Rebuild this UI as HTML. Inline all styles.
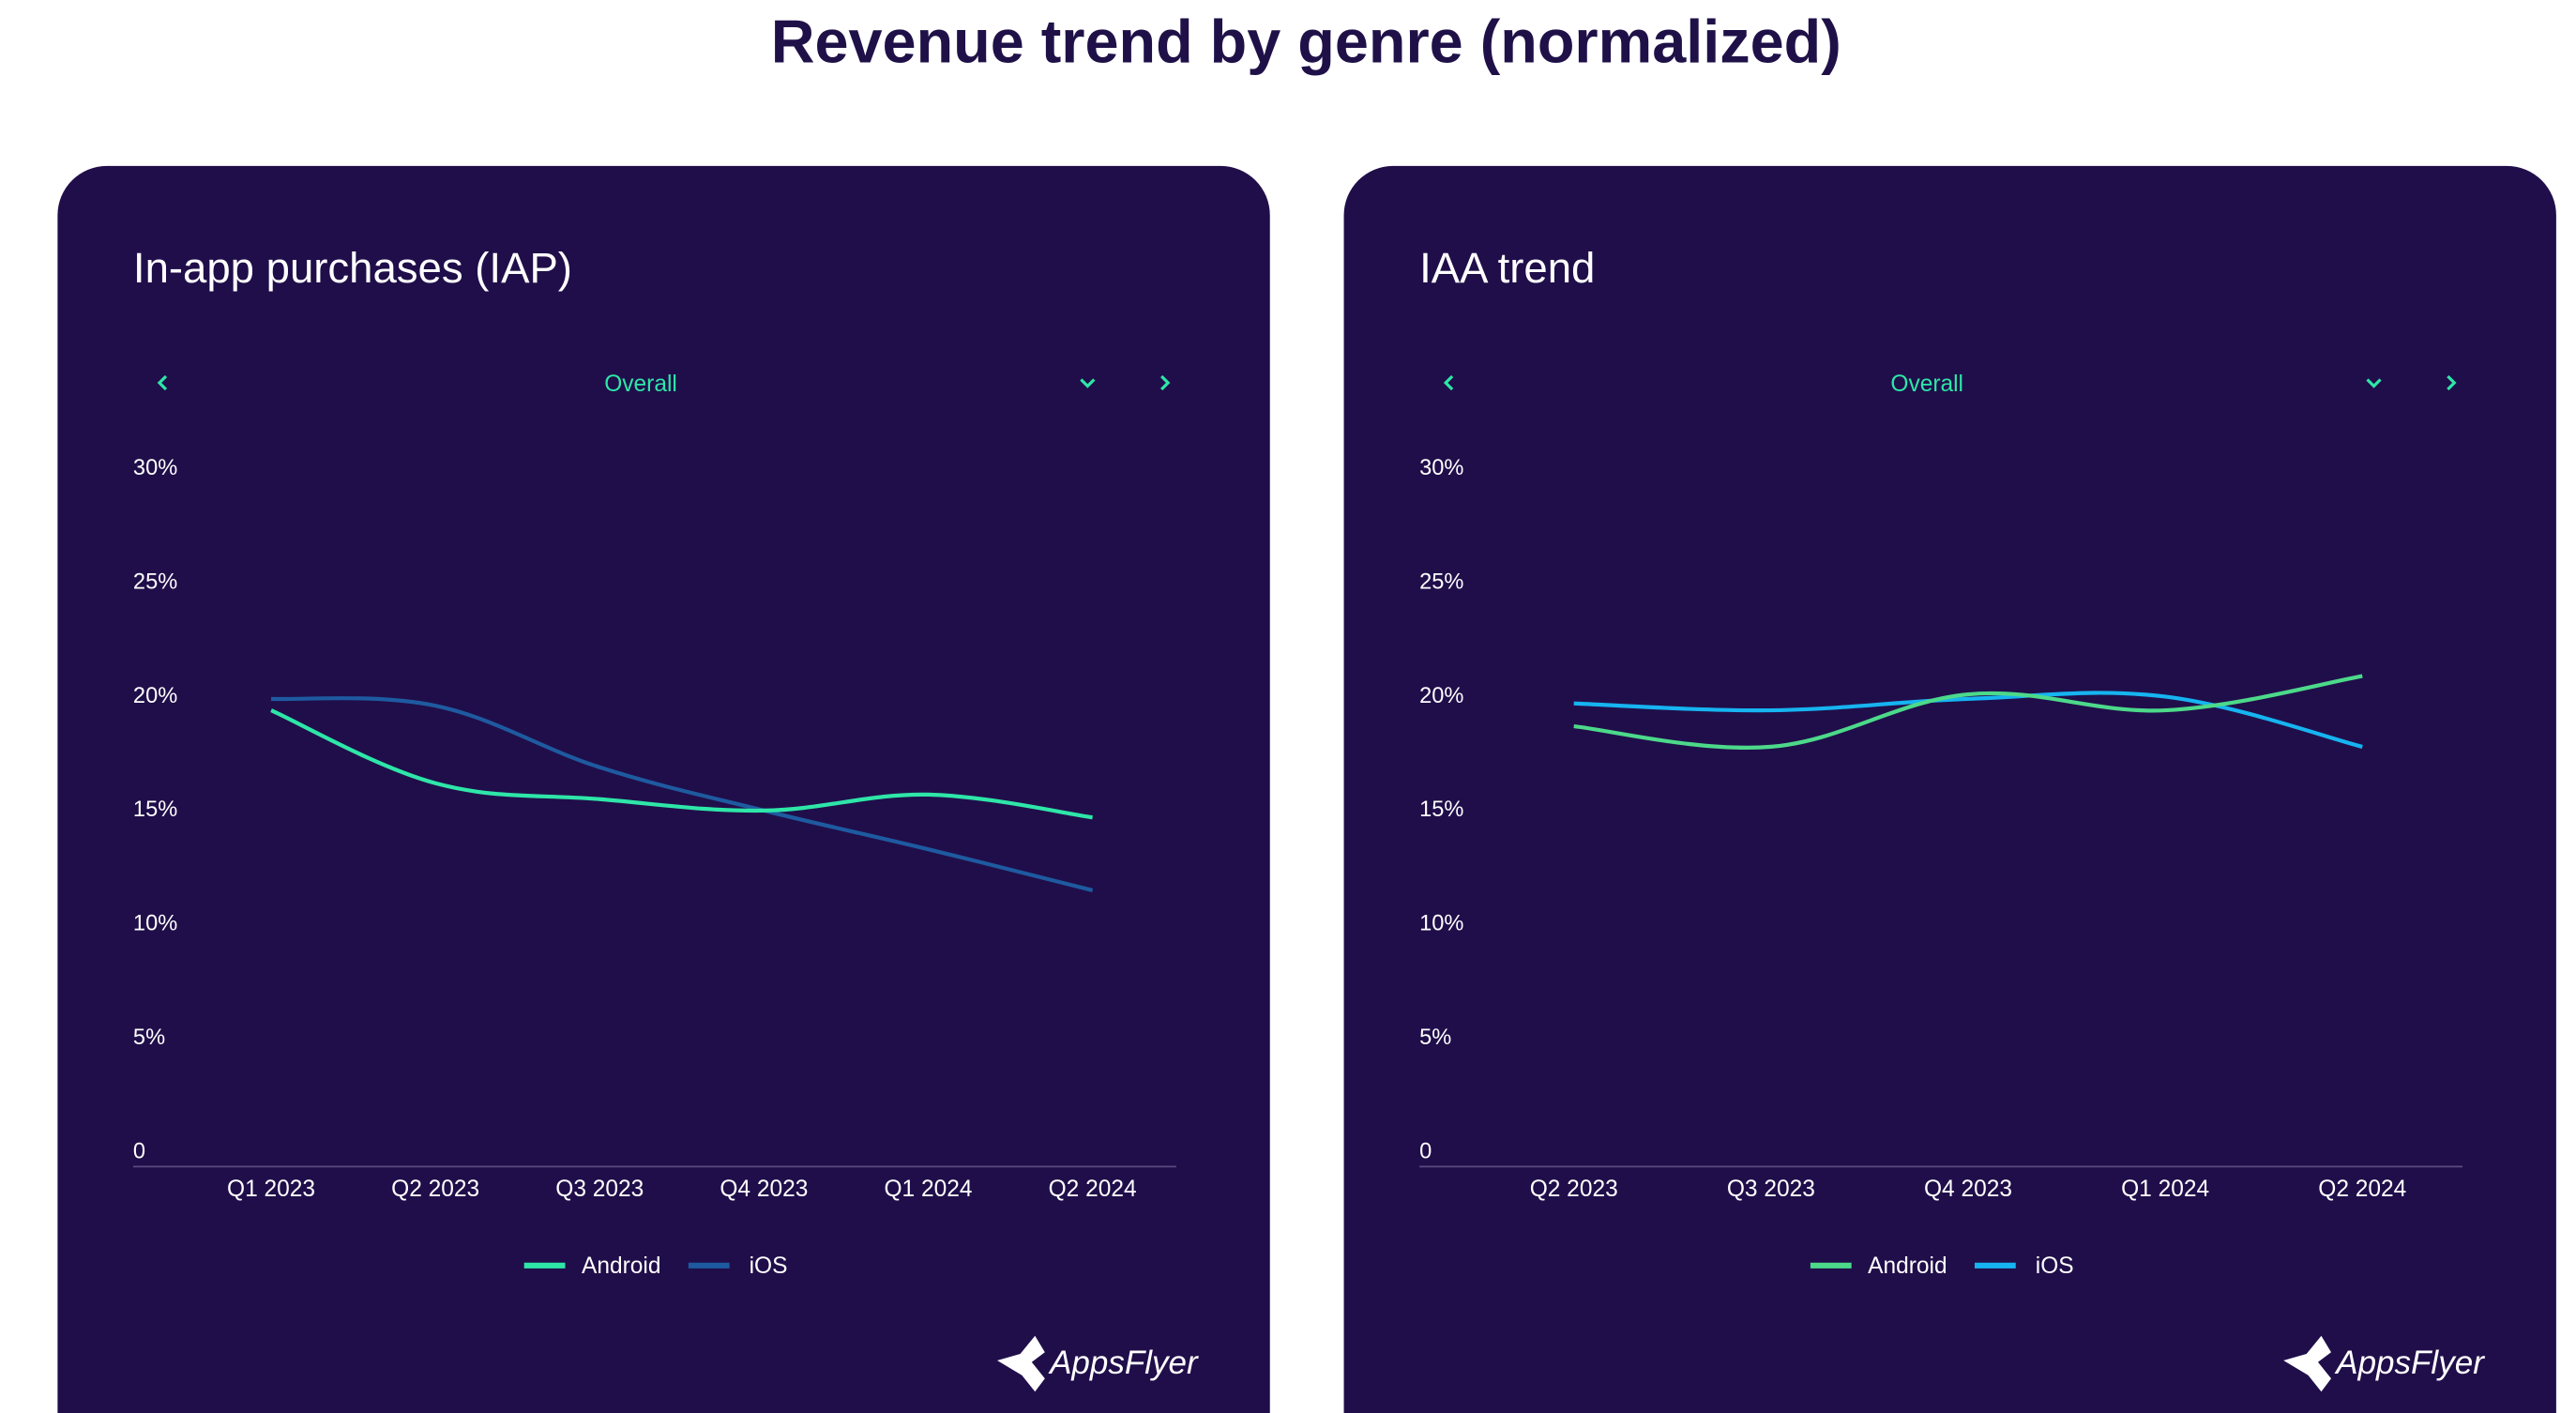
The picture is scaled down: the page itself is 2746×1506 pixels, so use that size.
<!DOCTYPE html>
<html><head><meta charset="utf-8"><style>
html,body{margin:0;padding:0;background:#fff;}
svg{display:block;font-family:"Liberation Sans",sans-serif;}
</style></head><body>
<svg id="c" width="2746" height="1506" viewBox="0 0 1568 860" xmlns="http://www.w3.org/2000/svg">
<rect x="0" y="0" width="1568" height="860" fill="#ffffff"/>
<text x="795" y="38" text-anchor="middle" font-size="37" font-weight="bold" fill="#1f1148">Revenue trend by genre (normalized)</text>
<g id="panels"></g>
</svg>
<script>
const NS="http://www.w3.org/2000/svg";
const iapCategories=["Q1 2023","Q2 2023","Q3 2023","Q4 2023","Q1 2024","Q2 2024"];
const iapAndroid=[19.3,16.1,15.4,14.9,15.6,14.6];
const iapIOS=[19.8,19.5,16.8,14.9,13.2,11.4];
const iaaCategories=["Q2 2023","Q3 2023","Q4 2023","Q1 2024","Q2 2024"];
const iaaAndroid=[18.6,17.7,20.0,19.3,20.8];
const iaaIOS=[19.6,19.3,19.8,19.9,17.7];
const yTicks=[0,5,10,15,20,25,30];
const yTickLabels=["0","5%","10%","15%","20%","25%","30%"];

function el(tag,attrs,parent){const e=document.createElementNS(NS,tag);for(const k in attrs)e.setAttribute(k,attrs[k]);parent.appendChild(e);return e;}
function yScale(v){return 700-v*13.87;}
function smooth(pts){let d="M"+pts[0][0]+","+pts[0][1];for(let i=0;i<pts.length-1;i++){const p0=pts[i-1]||pts[i],p1=pts[i],p2=pts[i+1],p3=pts[i+2]||p2;const t=0.18;d+=" C"+(p1[0]+(p2[0]-p0[0])*t)+","+(p1[1]+(p2[1]-p0[1])*t)+" "+(p2[0]-(p3[0]-p1[0])*t)+","+(p2[1]-(p3[1]-p1[1])*t)+" "+p2[0]+","+p2[1];}return d;}

const root=document.getElementById('panels');
function panel(ox,name,title,cats,x0,step,axisEnd,a,b,ca,cb){
  const g=el('g',{},root);
  
  
  const bg=el('rect',{x:ox,y:101,width:738,height:800,rx:30,fill:'#200e4a'},g);
  
  
  const t=el('text',{x:ox+46,y:172,'font-size':26,fill:'#ffffff'},g);t.textContent=title;
  
  
  const prev=el('path',{d:`M${ox+66},${229} l-4,4 l4,4`,stroke:'#2ee6a8','stroke-width':1.8,fill:'none'},g);
  
  
  const ov=el('text',{x:ox+355,y:238,'font-size':14,fill:'#2ee6a8','text-anchor':'middle'},g);ov.textContent='Overall';
  
  
  const dd=el('path',{d:`M${ox+623},${231} l4,4 l4,-4`,stroke:'#2ee6a8','stroke-width':1.8,fill:'none'},g);
  
  
  const nx=el('path',{d:`M${ox+672},${229} l4,4 l-4,4`,stroke:'#2ee6a8','stroke-width':1.8,fill:'none'},g);
  
  
  yTicks.forEach((v,i)=>{const l=el('text',{x:ox+46,y:yScale(v)+5,'font-size':13.5,fill:'#ffffff'},g);l.textContent=yTickLabels[i];
    
    });
  const ax=el('line',{x1:ox+46,x2:axisEnd,y1:710,y2:710,stroke:'#5a4a80','stroke-width':1},g);
  
  
  cats.forEach((c,i)=>{const l=el('text',{x:x0+i*step,y:728,'font-size':14,fill:'#ffffff','text-anchor':'middle'},g);l.textContent=c;
    
    });
  const pa=a.map((v,i)=>[x0+i*step,yScale(v)]);
  const pb=b.map((v,i)=>[x0+i*step,yScale(v)]);
  const lb=el('path',{d:smooth(pb),stroke:cb,'stroke-width':2.4,fill:'none'},g);
  
  
  const la=el('path',{d:smooth(pa),stroke:ca,'stroke-width':2.4,fill:'none'},g);
  
  
  const lx=ox+284;
  const s1=el('rect',{x:lx,y:768.5,width:25,height:3.5,fill:ca},g);
  
  
  const t1=el('text',{x:lx+35,y:775,'font-size':14,fill:'#ffffff'},g);t1.textContent='Android';
  
  
  const s2=el('rect',{x:lx+100,y:768.5,width:25,height:3.5,fill:cb},g);
  
  
  const t2=el('text',{x:lx+137,y:775,'font-size':14,fill:'#ffffff'},g);t2.textContent='iOS';
  
  
  const lg=el('g',{},g);
  
  
  el('path',{d:`M${ox+572},${828} l14,-4 l9,-11 l6,10 l-8,6 l8,10 l-6,8 l-8,-10 z`,fill:'#ffffff'},lg);
  const lt=el('text',{x:ox+604,y:836,'font-size':20,'font-style':'italic',fill:'#ffffff'},lg);lt.textContent='AppsFlyer';
}
panel(35,'iap-panel','In-app purchases (IAP)',iapCategories,165,100,716,iapAndroid,iapIOS,'#2ee6a8','#1e5aa0');
panel(818,'iaa-panel','IAA trend',iaaCategories,958,120,1499,iaaAndroid,iaaIOS,'#4cd98a','#16b4f0');
</script>
</body></html>
